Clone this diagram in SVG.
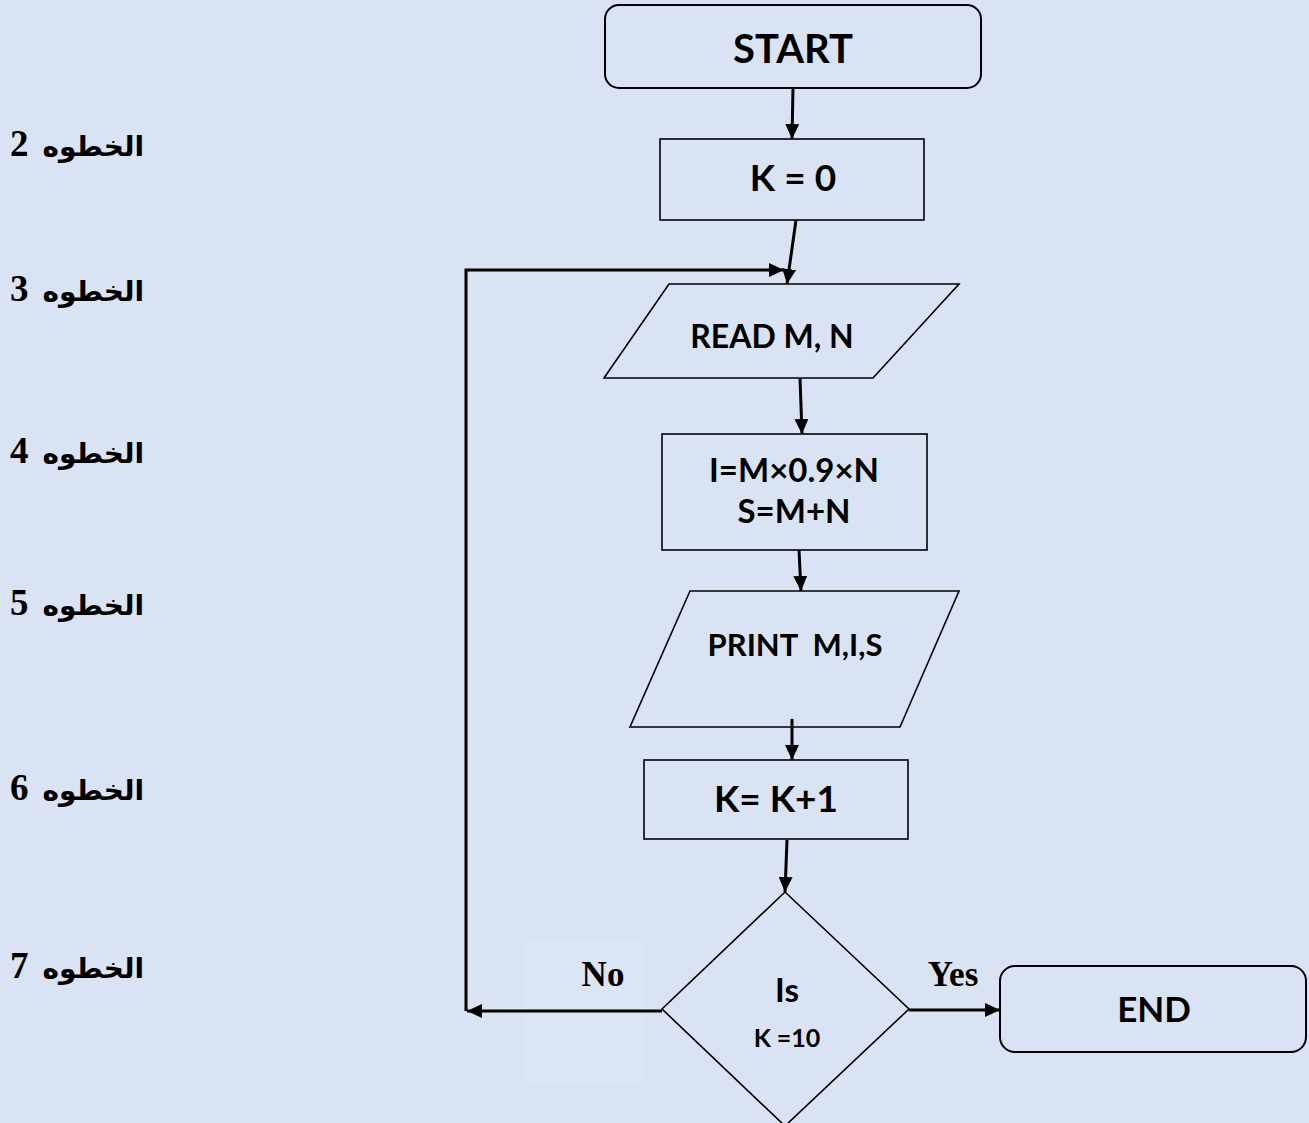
<svg xmlns="http://www.w3.org/2000/svg" width="1309" height="1123" viewBox="0 0 1309 1123">
<style>
.bg{fill:#dae3f3}
.shape{fill:#dae3f3;stroke:#000;stroke-width:1.6}
.term{fill:#dae3f3;stroke:#000;stroke-width:2}
.lbl{font-family:Lato,"Open Sans",sans-serif;font-weight:bold;fill:#000;text-anchor:middle}
.step{font-family:"Liberation Serif","DejaVu Sans",serif;font-weight:bold;font-size:28px;fill:#000}
.num{font-size:37px}
.yn{font-family:"Liberation Serif",serif;font-weight:bold;font-size:35px;fill:#000;text-anchor:middle}
.conn{fill:none;stroke:#000;stroke-width:3}
</style>
<defs>
<marker id="ah" markerUnits="userSpaceOnUse" markerWidth="16" markerHeight="14" refX="15" refY="7" orient="auto">
<path d="M0,0 L15,7 L0,14 Z" fill="#000"/>
</marker>
</defs>
<rect class="bg" x="0" y="0" width="1309" height="1123"/>
<rect x="525" y="940" width="118" height="144" fill="#dce5f4"/>

<g id="steps">
<text class="step" x="10" y="156" direction="rtl" text-anchor="end" xml:space="preserve">الخطوه  <tspan class="num">2</tspan></text>
<text class="step" x="10" y="301" direction="rtl" text-anchor="end" xml:space="preserve">الخطوه  <tspan class="num">3</tspan></text>
<text class="step" x="10" y="463" direction="rtl" text-anchor="end" xml:space="preserve">الخطوه  <tspan class="num">4</tspan></text>
<text class="step" x="10" y="615" direction="rtl" text-anchor="end" xml:space="preserve">الخطوه  <tspan class="num">5</tspan></text>
<text class="step" x="10" y="800" direction="rtl" text-anchor="end" xml:space="preserve">الخطوه  <tspan class="num">6</tspan></text>
<text class="step" x="10" y="978" direction="rtl" text-anchor="end" xml:space="preserve">الخطوه  <tspan class="num">7</tspan></text>
</g>

<g id="start">
<rect class="term" x="605" y="5" width="376" height="83" rx="14"/>
<text class="lbl" x="793" y="63" font-size="40">START</text>
</g>

<g id="k0">
<rect class="shape" x="660" y="139" width="264" height="81"/>
<text class="lbl" x="793" y="191" font-size="37">K = 0</text>
</g>

<g id="read">
<polygon class="shape" points="669,284 959,284 873,378 604,378"/>
<text class="lbl" x="772" y="348" font-size="32">READ M, N</text>
</g>

<g id="calc">
<rect class="shape" x="662" y="434" width="265" height="116"/>
<text class="lbl" x="794" y="482" font-size="33">I=M×0.9×N</text>
<text class="lbl" x="794" y="523" font-size="33">S=M+N</text>
</g>

<g id="print">
<polygon class="shape" points="690,591 959,591 900,727 630,727"/>
<text class="lbl" x="795" y="656" font-size="31" xml:space="preserve">PRINT  M,I,S</text>
</g>

<g id="inc">
<rect class="shape" x="644" y="760" width="264" height="79"/>
<text class="lbl" x="776" y="812" font-size="37">K= K+1</text>
</g>

<g id="decision">
<polygon class="shape" points="785,892 909,1009 785,1126 662,1009"/>
<text class="lbl" x="787" y="1002" font-size="33">Is</text>
<text class="lbl" x="787" y="1047" font-size="25">K =10</text>
</g>

<g id="end">
<rect class="term" x="1000" y="966" width="306" height="86" rx="15"/>
<text class="lbl" x="1154" y="1022" font-size="35">END</text>
</g>

<g id="connectors">
<line class="conn" x1="793" y1="88" x2="792" y2="139" marker-end="url(#ah)"/>
<line class="conn" x1="796" y1="220" x2="787" y2="284" marker-end="url(#ah)"/>
<line class="conn" x1="800" y1="378" x2="802" y2="434" marker-end="url(#ah)"/>
<line class="conn" x1="799" y1="550" x2="801" y2="591" marker-end="url(#ah)"/>
<line class="conn" x1="792" y1="719" x2="792" y2="760" marker-end="url(#ah)"/>
<line class="conn" x1="787" y1="840" x2="785" y2="892" marker-end="url(#ah)"/>
<line class="conn" x1="909" y1="1010" x2="1000" y2="1010" marker-end="url(#ah)"/>
<line class="conn" x1="662" y1="1011" x2="467" y2="1011" marker-end="url(#ah)"/>
<polyline class="conn" points="466,1011 466,270 784,270" marker-end="url(#ah)"/>
<text class="yn" x="603" y="986">No</text>
<text class="yn" x="953" y="986">Yes</text>
</g>
</svg>
